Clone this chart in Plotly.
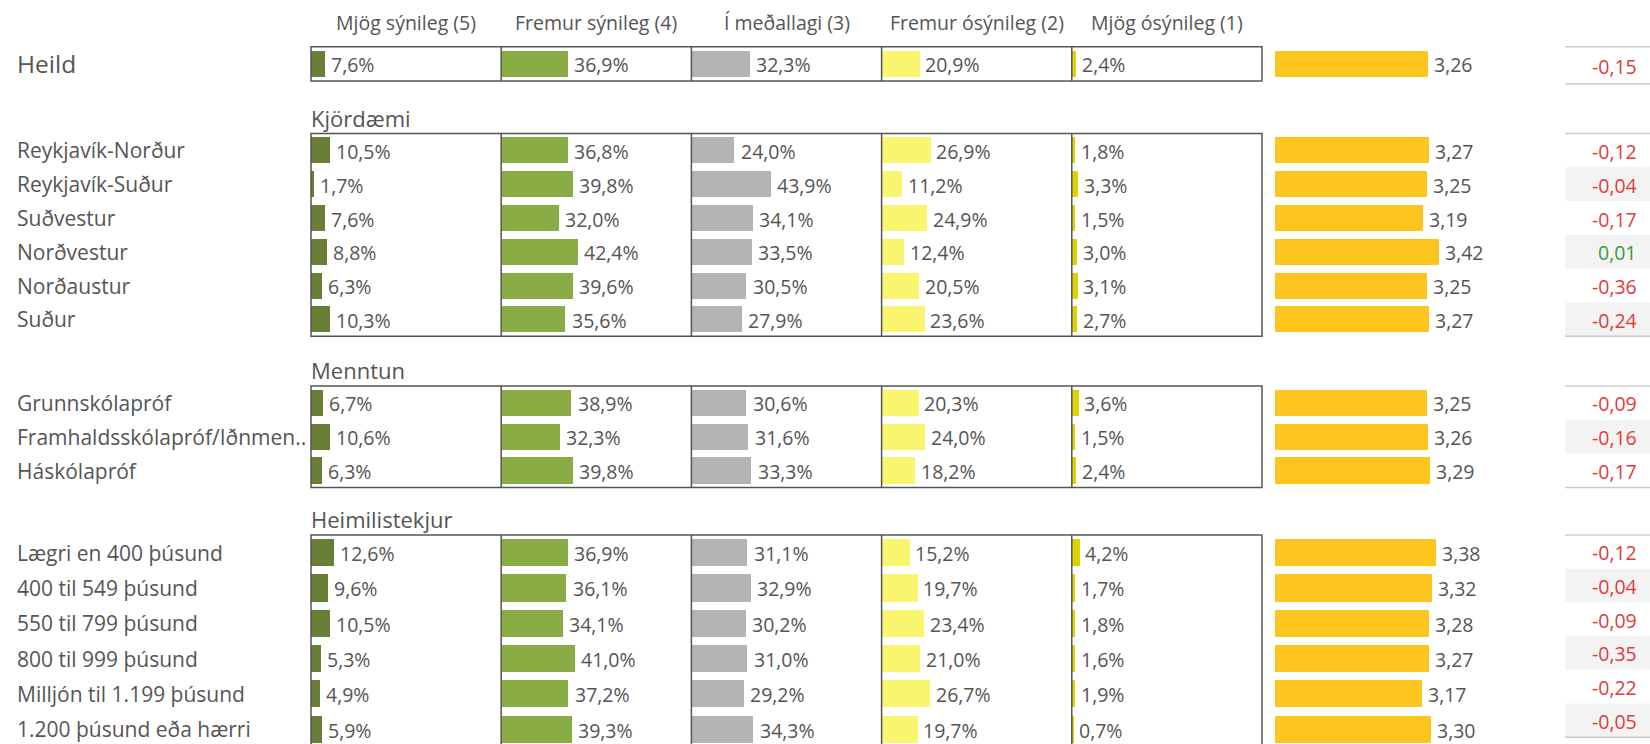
import plotly.graph_objects as go

# ---------------- data ----------------
col_headers = ["Mjög sýnileg (5)", "Fremur sýnileg (4)", "Í meðallagi (3)",
               "Fremur ósýnileg (2)", "Mjög ósýnileg (1)"]

heild_labels = ["Heild"]
heild_p5 = [7.6]
heild_p4 = [36.9]
heild_p3 = [32.3]
heild_p2 = [20.9]
heild_p1 = [2.4]
heild_mean = [3.26]
heild_delta = [-0.15]

kjor_labels = ["Reykjavík-Norður", "Reykjavík-Suður", "Suðvestur", "Norðvestur", "Norðaustur", "Suður"]
kjor_p5 = [10.5, 1.7, 7.6, 8.8, 6.3, 10.3]
kjor_p4 = [36.8, 39.8, 32.0, 42.4, 39.6, 35.6]
kjor_p3 = [24.0, 43.9, 34.1, 33.5, 30.5, 27.9]
kjor_p2 = [26.9, 11.2, 24.9, 12.4, 20.5, 23.6]
kjor_p1 = [1.8, 3.3, 1.5, 3.0, 3.1, 2.7]
kjor_mean = [3.27, 3.25, 3.19, 3.42, 3.25, 3.27]
kjor_delta = [-0.12, -0.04, -0.17, 0.01, -0.36, -0.24]

menn_labels = ["Grunnskólapróf", "Framhaldsskólapróf/Iðnmen..", "Háskólapróf"]
menn_p5 = [6.7, 10.6, 6.3]
menn_p4 = [38.9, 32.3, 39.8]
menn_p3 = [30.6, 31.6, 33.3]
menn_p2 = [20.3, 24.0, 18.2]
menn_p1 = [3.6, 1.5, 2.4]
menn_mean = [3.25, 3.26, 3.29]
menn_delta = [-0.09, -0.16, -0.17]

tekj_labels = ["Lægri en 400 þúsund", "400 til 549 þúsund", "550 til 799 þúsund",
               "800 til 999 þúsund", "Milljón til 1.199 þúsund", "1.200 þúsund eða hærri"]
tekj_p5 = [12.6, 9.6, 10.5, 5.3, 4.9, 5.9]
tekj_p4 = [36.9, 36.1, 34.1, 41.0, 37.2, 39.3]
tekj_p3 = [31.1, 32.9, 30.2, 31.0, 29.2, 34.3]
tekj_p2 = [15.2, 19.7, 23.4, 21.0, 26.7, 19.7]
tekj_p1 = [4.2, 1.7, 1.8, 1.6, 1.9, 0.7]
tekj_mean = [3.38, 3.32, 3.28, 3.27, 3.17, 3.30]
tekj_delta = [-0.12, -0.04, -0.09, -0.35, -0.22, -0.05]

# ---------------- layout / style ----------------
W, H = 1650, 744
FONT = "Open Sans"
TXT = "#555555"
colors = ["#687f35", "#8aac45", "#b3b3b3", "#f9f56e", "#dcd300"]
MEAN_C = "#fcc61f"
RED, GREEN = "#e03c3c", "#3c9a3c"
VAL_SIZE = 19.5
LAB_SIZE = 21

P_LEFT, P_W = 311.0, 190.2          # percent panels
M_LEFT, M_RIGHT = 1275.0, 1546.0    # mean axis [1,5]
D_LEFT, D_TEXT = 1565.0, 1639.0     # delta column

groups = [
    dict(title=None, labels=heild_labels, vals=[heild_p5, heild_p4, heild_p3, heild_p2, heild_p1],
         mean=heild_mean, delta=heild_delta, top=46.7, pitch=34.3, dpitch=37.0, big=True),
    dict(title="Kjördæmi", labels=kjor_labels, vals=[kjor_p5, kjor_p4, kjor_p3, kjor_p2, kjor_p1],
         mean=kjor_mean, delta=kjor_delta, top=133.5, pitch=33.8, dpitch=33.8, big=False),
    dict(title="Menntun", labels=menn_labels, vals=[menn_p5, menn_p4, menn_p3, menn_p2, menn_p1],
         mean=menn_mean, delta=menn_delta, top=386.0, pitch=33.8, dpitch=33.8, big=False),
    dict(title="Heimilistekjur", labels=tekj_labels, vals=[tekj_p5, tekj_p4, tekj_p3, tekj_p2, tekj_p1],
         mean=tekj_mean, delta=tekj_delta, top=535.0, pitch=35.3, dpitch=33.7, big=False),
]

fig = go.Figure()
annotations = []
shapes = []

def px(x):
    return x / W

def fmt(v, nd):
    return f"{v:.{nd}f}".replace(".", ",")

axis_names = ["x", "x2", "x3", "x4", "x5", "x6"]

for g in groups:
    n = len(g["labels"])
    ys = [g["top"] + g["pitch"] * (i + 0.5) for i in range(n)]
    bh = g["pitch"] * 0.77 if not g["big"] else 26.7
    # percent bars
    for k in range(5):
        fig.add_trace(go.Bar(
            x=g["vals"][k], y=ys, orientation="h", width=bh,
            marker=dict(color=colors[k], line=dict(width=0)),
            xaxis=axis_names[k], yaxis="y", hoverinfo="skip", showlegend=False))
        for v, yy in zip(g["vals"][k], ys):
            annotations.append(dict(x=v, y=yy + 1, xref=axis_names[k], yref="y",
                                    text=fmt(v, 1) + "%", showarrow=False,
                                    xanchor="left", yanchor="middle", xshift=4,
                                    font=dict(family=FONT, size=VAL_SIZE, color=TXT)))
    # mean bars
    fig.add_trace(go.Bar(
        x=g["mean"], y=ys, orientation="h", width=bh,
        marker=dict(color=MEAN_C, line=dict(width=0)),
        xaxis="x6", yaxis="y", hoverinfo="skip", showlegend=False))
    for v, yy in zip(g["mean"], ys):
        annotations.append(dict(x=v, y=yy + 1, xref="x6", yref="y", text=fmt(v, 2),
                                showarrow=False, xanchor="left", yanchor="middle", xshift=4,
                                font=dict(family=FONT, size=VAL_SIZE, color=TXT)))
    # row labels
    for lab, yy in zip(g["labels"], ys):
        annotations.append(dict(x=px(15), y=yy, xref="paper", yref="y", text=lab,
                                showarrow=False, xanchor="left", yanchor="middle",
                                font=dict(family=FONT, size=24.5 if g["big"] else LAB_SIZE, color=TXT)))
    # group title
    if g["title"]:
        annotations.append(dict(x=px(P_LEFT - 2), y=g["top"] + 1, xref="paper", yref="y",
                                text=g["title"], showarrow=False, xanchor="left", yanchor="bottom",
                                font=dict(family=FONT, size=22, color=TXT)))
    # box around percent panels
    bottom = g["top"] + g["pitch"] * n
    shapes.append(dict(type="rect", xref="paper", yref="y", x0=px(P_LEFT), x1=px(P_LEFT + 5 * P_W),
                       y0=g["top"], y1=bottom, line=dict(color="#555555", width=1.5)))
    for k in range(1, 5):
        shapes.append(dict(type="line", xref="paper", yref="y", x0=px(P_LEFT + k * P_W),
                           x1=px(P_LEFT + k * P_W), y0=g["top"], y1=bottom,
                           line=dict(color="#555555", width=1.5)))
    # delta column
    dp = g["dpitch"]
    for i, d in enumerate(g["delta"]):
        y0 = g["top"] + dp * i
        if i % 2 == 1:
            shapes.append(dict(type="rect", xref="paper", yref="y", x0=px(D_LEFT), x1=1,
                               y0=y0, y1=y0 + dp, fillcolor="#f3f3f3", line=dict(width=0),
                               layer="below"))
        annotations.append(dict(x=px(D_TEXT), y=y0 + dp / 2 + 1, xref="paper", yref="y",
                                text=fmt(d, 2), showarrow=False, xanchor="right", yanchor="middle",
                                font=dict(family=FONT, size=VAL_SIZE, color=GREEN if d > 0 else RED)))
    dbot = g["top"] + dp * len(g["delta"])
    for yy in (g["top"], dbot):
        shapes.append(dict(type="line", xref="paper", yref="y", x0=px(D_LEFT), x1=1,
                           y0=yy, y1=yy, line=dict(color="#cccccc", width=1.5)))

# column headers
for k, h in enumerate(col_headers):
    annotations.append(dict(x=px(P_LEFT + (k + 0.5) * P_W), y=22, xref="paper", yref="y",
                            text=h, showarrow=False, xanchor="center", yanchor="middle",
                            font=dict(family=FONT, size=VAL_SIZE, color=TXT)))

layout = dict(
    width=W, height=H, margin=dict(l=0, r=0, t=0, b=0),
    paper_bgcolor="white", plot_bgcolor="white",
    bargap=0, barmode="overlay",
    yaxis=dict(range=[H, 0], domain=[0, 1], visible=False, fixedrange=True),
    annotations=annotations, shapes=shapes,
)
for k in range(5):
    key = "xaxis" if k == 0 else f"xaxis{k+1}"
    layout[key] = dict(domain=[px(P_LEFT + k * P_W), px(P_LEFT + (k + 1) * P_W)],
                       range=[0, 105], visible=False, fixedrange=True, anchor="y")
layout["xaxis6"] = dict(domain=[px(M_LEFT), px(M_RIGHT)], range=[1, 5], visible=False,
                        fixedrange=True, anchor="y")
fig.update_layout(**layout)
fig.write_html("out.html", config={"displayModeBar": False},
               post_script="document.body.style.margin='0px';document.body.style.overflow='hidden';")
